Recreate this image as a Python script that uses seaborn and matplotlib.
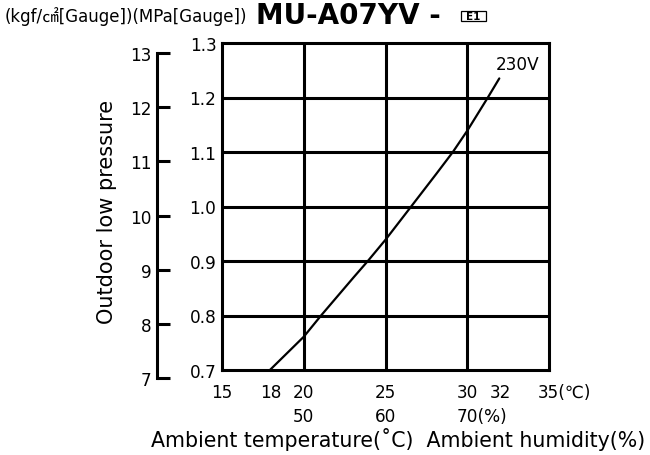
import matplotlib
matplotlib.use("Agg")
import matplotlib.pyplot as plt
from matplotlib.patches import Rectangle
import seaborn as sns
import pandas as pd

# curve: ambient temp (C) vs outdoor low pressure (MPa)
temp_c = [17.93, 20.0, 21.06, 23.05, 23.92, 25.0, 26.57, 28.11, 29.12, 30.0, 31.26, 31.96]
press_mpa = [0.700, 0.761, 0.800, 0.870, 0.900, 0.939, 1.000, 1.060, 1.100, 1.139, 1.200, 1.235]

mpa_ticks = [0.7, 0.8, 0.9, 1.0, 1.1, 1.2, 1.3]
kgf_ticks = [7, 8, 9, 10, 11, 12, 13]
temp_ticks = [15, 18, 20, 25, 30, 32, 35]
temp_labels = ["15", "18", "20", "25", "30", "32", "35(\u2103)"]
hum_pos = [20, 25, 30]
hum_labels = ["50", "60", "70(%)"]
grid_x = [20, 25, 30]
grid_y = [0.8, 0.9, 1.0, 1.1, 1.2]

sns.set_theme(style="white")
plt.rcParams['font.family'] = ['DejaVu Sans', 'Noto Sans CJK JP']
plt.rcParams['text.color'] = 'black'
plt.rcParams['xtick.color'] = 'black'
plt.rcParams['ytick.color'] = 'black'

W, H = 650, 456
fig = plt.figure(figsize=(6.5, 4.56), dpi=100)

def fx(px):
    return px / W

def fy(py):
    return 1 - py / H

lw = 2.2
tick_fs = 12.2
ax = fig.add_axes([fx(222), fy(371), fx(549) - fx(222), fy(44) - fy(371)])
df = pd.DataFrame({"temp": temp_c, "mpa": press_mpa})
sns.lineplot(data=df, x="temp", y="mpa", ax=ax, color="black", linewidth=1.6)
for gx in grid_x:
    ax.axvline(gx, color="black", linewidth=lw, zorder=1)
for gy in grid_y:
    ax.axhline(gy, color="black", linewidth=lw, zorder=1)
ax.set_xlim(15, 35)
ax.set_ylim(0.7, 1.3)
for s in ax.spines.values():
    s.set_linewidth(lw)
    s.set_color("black")
ax.set_xticks([])
ax.set_yticks(mpa_ticks)
ax.set_yticklabels([f"{v:.1f}" for v in mpa_ticks])
ax.tick_params(axis="y", length=0, pad=4, labelsize=tick_fs, labelcolor="black")
ax.set_xlabel("")
ax.set_ylabel("")

# temperature / humidity labels under the frame
half_num = 8.0
for t, lab in zip(temp_ticks, temp_labels):
    if "(" in lab:
        ax.annotate(lab, (t, 0), xycoords=("data", "axes fraction"), xytext=(-half_num, -16),
                    textcoords="offset points", ha="left", va="center", fontsize=tick_fs)
    else:
        ax.annotate(lab, (t, 0), xycoords=("data", "axes fraction"), xytext=(0, -16),
                    textcoords="offset points", ha="center", va="center", fontsize=tick_fs)
for h, lab in zip(hum_pos, hum_labels):
    if "(" in lab:
        ax.annotate(lab, (h, 0), xycoords=("data", "axes fraction"), xytext=(-half_num, -33),
                    textcoords="offset points", ha="left", va="center", fontsize=tick_fs)
    else:
        ax.annotate(lab, (h, 0), xycoords=("data", "axes fraction"), xytext=(0, -33),
                    textcoords="offset points", ha="center", va="center", fontsize=tick_fs)

ax.text(33.1, 1.262, "230V", ha="center", va="center", fontsize=tick_fs)

# kgf/cm2 scale on the far left
ax2 = fig.add_axes([fx(157), fy(379), 0.001, fy(54) - fy(379)])
ax2.set_ylim(7, 13)
ax2.set_xticks([])
ax2.set_yticks(kgf_ticks)
ax2.set_yticklabels([str(v) for v in kgf_ticks])
for name, s in ax2.spines.items():
    s.set_visible(name == "left")
ax2.spines["left"].set_linewidth(lw)
ax2.spines["left"].set_color("black")
ax2.patch.set_visible(False)
ax2.tick_params(axis="y", left=True, direction="in", length=9.4, width=lw, pad=4,
                labelsize=tick_fs, color="black", labelcolor="black")

fig.text(fx(107), fy(212), "Outdoor low pressure", rotation=90, ha="center", va="center", fontsize=15)
fig.text(fx(398), fy(440), "Ambient temperature(\u02daC)  Ambient humidity(%)",
         ha="center", va="center", fontsize=14.8)

fig.text(fx(5), fy(17), "(kgf/\u33a0[Gauge])(MPa[Gauge])", ha="left", va="center", fontsize=12)
fig.text(fx(256), fy(16), "MU-A07YV -", ha="left", va="center", fontsize=20, fontweight="bold")
fig.patches.append(Rectangle((fx(461), fy(22)), fx(486) - fx(461), fy(12) - fy(22),
                             transform=fig.transFigure, facecolor="white", edgecolor="black", linewidth=0.9))
fig.text(fx(473.5), fy(17), "E1", ha="center", va="center", fontsize=7.5, fontweight="bold")

plt.savefig("out.png", dpi=100)
plt.close()
